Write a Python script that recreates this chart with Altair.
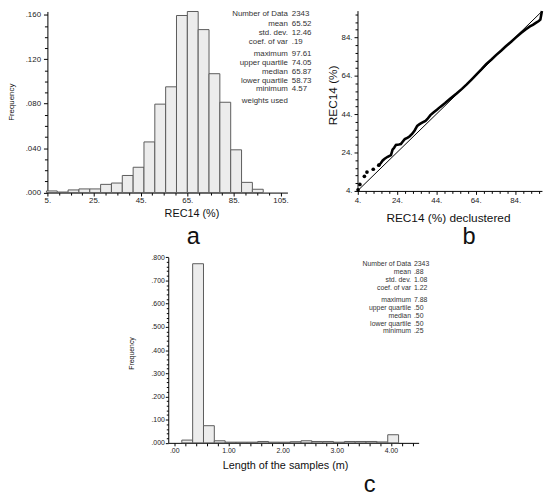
import altair as alt
import pandas as pd

FONT = "Liberation Sans"

# ---------------- data ----------------
# Panel a: histogram of REC14 (%)
a_bin_lo = [4.57, 9.22, 13.87, 18.53, 23.18, 27.83, 32.48, 37.13, 41.79, 46.44,
            51.09, 55.74, 60.39, 65.05, 69.70, 74.35, 79.00, 83.65, 88.31, 92.96]
a_bin_hi = [9.22, 13.87, 18.53, 23.18, 27.83, 32.48, 37.13, 41.79, 46.44, 51.09,
            55.74, 60.39, 65.05, 69.70, 74.35, 79.00, 83.65, 88.31, 92.96, 97.61]
a_freq = [0.0015, 0.0005, 0.0024, 0.0033, 0.0033, 0.0074, 0.0086, 0.0154, 0.0228, 0.0456,
          0.0796, 0.0952, 0.1594, 0.1630, 0.1467, 0.1070, 0.0813, 0.0385, 0.0092, 0.0030]
stat_labels = ["Number of Data", "mean", "std. dev.", "coef. of var", "maximum",
               "upper quartile", "median", "lower quartile", "minimum"]
a_stat_values = ["2343", "65.52", "12.46", ".19", "97.61", "74.05", "65.87", "58.73", "4.57"]
a_note = "weights used"

# Panel b: Q-Q plot, REC14 (%) declustered (x) vs REC14 (%) (y)
b_sparse_x = [4.3, 5.2, 7.5, 8.8, 12.0, 14.8]
b_sparse_y = [4.6, 7.4, 11.6, 13.8, 15.3, 17.4]
b_curve_x = [14.8, 15.8, 16.8, 17.8, 19.3, 21.0, 21.8, 22.6, 23.5, 25.0, 26.0, 27.0, 28.0,
             29.5, 30.5, 31.8, 33.0, 34.3, 35.5, 36.8, 38.5, 39.5, 41.0, 42.7, 44.3, 46.0,
             48.5, 51.0, 54.3, 57.0, 59.3, 62.0, 64.3, 67.0, 69.3, 72.0, 74.3, 77.0, 79.3,
             82.0, 84.3, 87.0, 89.3, 91.5, 93.0, 94.5, 96.0, 96.8, 97.2, 97.6]
b_curve_y = [17.4, 18.4, 19.9, 20.8, 21.8, 22.7, 25.5, 26.5, 28.0, 28.2, 28.4, 29.8, 31.0,
             31.8, 32.5, 33.8, 35.5, 37.9, 38.8, 39.6, 40.5, 41.5, 43.5, 45.0, 46.3, 47.8,
             49.8, 52.0, 54.8, 57.2, 59.4, 62.2, 64.6, 67.5, 70.1, 72.5, 74.8, 77.2, 79.4,
             81.8, 83.9, 86.3, 88.2, 89.8, 90.6, 91.6, 92.6, 93.3, 95.5, 97.8]
b_diag = [4.0, 97.61]

# Panel c: histogram of sample length (m)
c_bin_lo = [0.14, 0.34, 0.54, 0.74, 0.94, 1.14, 1.34, 1.54, 1.74, 1.94,
            2.14, 2.34, 2.54, 2.74, 2.94, 3.14, 3.34, 3.54, 3.74, 3.94]
c_bin_hi = [0.34, 0.54, 0.74, 0.94, 1.14, 1.34, 1.54, 1.74, 1.94, 2.14,
            2.34, 2.54, 2.74, 2.94, 3.14, 3.34, 3.54, 3.74, 3.94, 4.14]
c_freq = [0.012, 0.772, 0.074, 0.009, 0.003, 0.003, 0.003, 0.006, 0.003, 0.003,
          0.005, 0.009, 0.006, 0.006, 0.003, 0.006, 0.006, 0.006, 0.004, 0.035]
c_stat_values = ["2343", ".88", "1.08", "1.22", "7.88", ".50", ".50", ".50", ".25"]

# ---------------- layout (pixels inside the single canvas) ----------------
W, H = 545, 489
dummy = pd.DataFrame({"k": [0]})


def axis(orient, offset, values, major_test, label_expr, fsize, major, minor, pad):
    return alt.Axis(
        orient=orient, offset=offset, values=values, labelExpr=label_expr,
        tickSize={"condition": {"test": major_test, "value": major}, "value": minor},
        title=None, grid=False, labelOverlap=False, labelFlush=False,
        domainColor="#000", tickColor="#000", domainWidth=1, tickWidth=1,
        labelFont=FONT, labelFontSize=fsize, labelColor="#222", labelPadding=pad,
    )


def txt(x, y, s, size, align="center", angle=0, color="#111"):
    return alt.Chart(dummy).mark_text(
        text=s, fontSize=size, font=FONT, align=align, baseline="middle",
        angle=angle, color=color,
    ).encode(x=alt.value(x), y=alt.value(y))


layers = []

# ---- panel a ----
a_xs = alt.Scale(domain=[5, 108], range=[40, 283.6], nice=False, zero=False)
a_ys = alt.Scale(domain=[0, 0.163], range=[183.7, -0.1], nice=False, zero=False)
a_xaxis = axis("bottom", 183.7 - H, list(range(5, 108, 5)),
               "(datum.value - 5) % 20 == 0",
               "(datum.value - 5) % 20 == 0 ? format(datum.value, 'd') + '.' : ''",
               8, 3.5, 2.5, 1)
a_yaxis = axis("left", -40, [round(i * 0.01, 3) for i in range(17)],
               "abs(datum.value * 25 - round(datum.value * 25)) < 0.001",
               "abs(datum.value * 25 - round(datum.value * 25)) < 0.001 ? substring(format(datum.value, '.3f'), 1) : ''",
               8, 4, 3, 3)
df_a = pd.DataFrame({"lo": a_bin_lo, "hi": a_bin_hi, "freq": a_freq, "base": 0.0})
layers.append(
    alt.Chart(df_a).mark_rect(fill="#ececec", stroke="#5a5a5a", strokeWidth=1).encode(
        x=alt.X("lo:Q", scale=a_xs, axis=a_xaxis), x2="hi",
        y=alt.Y("freq:Q", scale=a_ys, axis=a_yaxis), y2="base",
    )
)

# ---- panel b ----
b_xs = alt.Scale(domain=[4, 97.61], range=[354.7, 541.9], nice=False, zero=False)
b_ys = alt.Scale(domain=[4, 98], range=[182, -1], nice=False, zero=False)
b_xaxis = axis("bottom", 182 - H, list(range(4, 97, 4)),
               "(datum.value - 4) % 20 == 0",
               "(datum.value - 4) % 20 == 0 ? format(datum.value, 'd') + '.' : ''",
               8, 3.5, 2.5, 2)
b_yaxis = axis("left", -354.7, list(range(4, 97, 4)),
               "(datum.value - 4) % 20 == 0",
               "(datum.value - 4) % 20 == 0 ? format(datum.value, 'd') + '.' : ''",
               8, 3.5, 2.5, 2)
df_diag = pd.DataFrame({"x": b_diag, "y": b_diag})
layers.append(
    alt.Chart(df_diag).mark_line(color="#000", strokeWidth=1).encode(
        x=alt.X("x:Q", scale=b_xs, axis=b_xaxis),
        y=alt.Y("y:Q", scale=b_ys, axis=b_yaxis),
    )
)
df_curve = pd.DataFrame({"x": b_curve_x, "y": b_curve_y})
layers.append(
    alt.Chart(df_curve).mark_line(color="#000", strokeWidth=2.6).encode(
        x=alt.X("x:Q", scale=b_xs, axis=None),
        y=alt.Y("y:Q", scale=b_ys, axis=None),
    )
)
df_sparse = pd.DataFrame({"x": b_sparse_x, "y": b_sparse_y})
layers.append(
    alt.Chart(df_sparse).mark_circle(color="#000", size=14, opacity=1).encode(
        x=alt.X("x:Q", scale=b_xs, axis=None),
        y=alt.Y("y:Q", scale=b_ys, axis=None),
    )
)

# ---- panel c ----
c_xs = alt.Scale(domain=[-0.11, 4.51], range=[162.65, 416.75], nice=False, zero=False)
c_ys = alt.Scale(domain=[0, 0.8], range=[437.7, 249.3], nice=False, zero=False)
c_xaxis = axis("bottom", 437.7 - H, [round(i * 0.2, 1) for i in range(23)],
               "abs(datum.value - round(datum.value)) < 0.001",
               "abs(datum.value - round(datum.value)) < 0.001 ? (datum.value == 0 ? '.00' : format(datum.value, '.2f')) : ''",
               7, 3, 3, 1)
c_yaxis = axis("left", -162.65, [round(i * 0.02, 2) for i in range(41)],
               "abs(datum.value * 10 - round(datum.value * 10)) < 0.001",
               "abs(datum.value * 10 - round(datum.value * 10)) < 0.001 ? substring(format(datum.value, '.3f'), 1) : ''",
               7, 3, 2, 1)
df_c = pd.DataFrame({"lo": c_bin_lo, "hi": c_bin_hi, "freq": c_freq, "base": 0.0})
layers.append(
    alt.Chart(df_c).mark_rect(fill="#ececec", stroke="#5a5a5a", strokeWidth=1).encode(
        x=alt.X("lo:Q", scale=c_xs, axis=c_xaxis), x2="hi",
        y=alt.Y("freq:Q", scale=c_ys, axis=c_yaxis), y2="base",
    )
)

# ---- titles and annotations ----
layers += [
    txt(4.5, 92, "Frequency", 8, angle=270),
    txt(186.7, 205, "REC14 (%)", 11),
    txt(188, 229, "a", 24),
    txt(329.7, 85, "REC14 (%)", 12, angle=270),
    txt(447, 210, "REC14 (%) declustered", 12),
    txt(468, 229, "b", 24),
    txt(126, 347, "Frequency", 7, angle=270),
    txt(281.7, 461, "Length of the samples (m)", 11),
    txt(367, 481, "c", 24),
]

a_rows = [2.5, 13, 22, 31, 43, 52, 61, 70, 79]
for lab, val, yy in zip(stat_labels, a_stat_values, a_rows):
    layers.append(txt(284, yy, lab, 8, align="right", color="#333"))
    layers.append(txt(288, yy, val, 8, align="left", color="#333"))
layers.append(txt(284, 91, a_note, 8, align="right", color="#333"))

c_rows = [256.3, 264.3, 272.3, 280.3, 293, 301.3, 308.7, 316.7, 324.7]
for lab, val, yy in zip(stat_labels, c_stat_values, c_rows):
    layers.append(txt(409, yy, lab, 7, align="right", color="#333"))
    layers.append(txt(412, yy, val, 7, align="left", color="#333"))

chart = (
    alt.layer(*layers)
    .resolve_scale(x="independent", y="independent")
    .properties(width=W, height=H, autosize=alt.AutoSizeParams(type="none"), padding=0,
                background="white")
    .configure_view(stroke=None)
)

chart.save("out.html", embed_options={"renderer": "svg", "actions": False})
